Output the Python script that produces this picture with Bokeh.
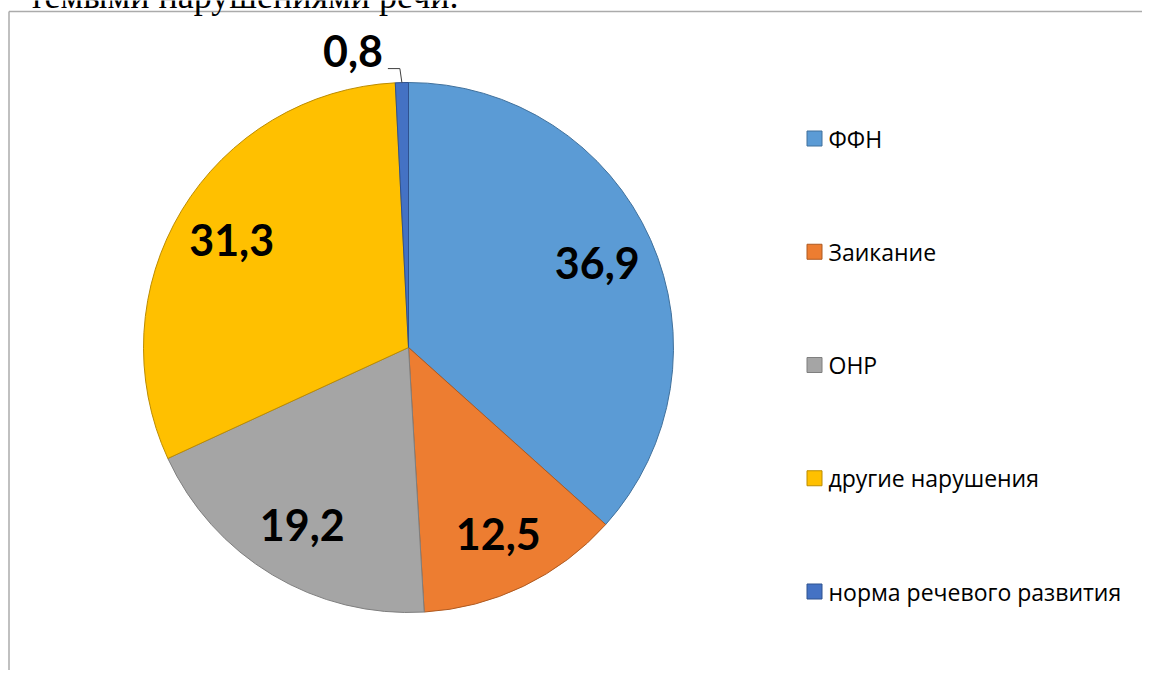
import math
from bokeh.plotting import figure
from bokeh.models import Range1d, ColumnDataSource
from bokeh.core.properties import value
from bokeh.embed import file_html
from bokeh.resources import INLINE

# ---- data ----
categories = ["ФФН", "Заикание", "ОНР", "другие нарушения", "норма речевого развития"]
values = [36.9, 12.5, 19.2, 31.3, 0.8]
labels = ["36,9", "12,5", "19,2", "31,3", "0,8"]
colors = ["#5B9BD5", "#ED7D31", "#A5A5A5", "#FFC000", "#4472C4"]
edge_colors = ["#41719C", "#AE5A21", "#7F7F7F", "#BC8C00", "#2F528F"]
heading = "темыми нарушениями речи."

# ---- layout (screen pixel -> data coords) ----
W, H = 1142, 670
def ax(x):
    return x
def ay(y):
    return H - y

CX, CY, R = ax(408), ay(347), 265
LABEL_R = 0.78 * R

p = figure(width=W, height=H, output_backend="svg", toolbar_location=None,
           x_range=Range1d(0, W), y_range=Range1d(0, H), min_border=0)
p.axis.visible = False
p.grid.visible = False
p.outline_line_color = None
p.background_fill_color = "white"
p.border_fill_color = "white"

# frame border of the chart area
p.segment(x0=[ax(8.5), ax(8.5)], y0=[ay(11), ay(11)], x1=[ax(W), ax(8.5)], y1=[ay(11), ay(H)],
          line_color="#ABABAB", line_width=1.5)

# heading text of the document, cut at the top edge as in the source
p.text(x=[ax(458)], y=[ay(-5)], text=[heading], text_font=value("Liberation Serif"),
       text_font_size="36px", text_align="right", text_baseline="alphabetic", text_color="black")

# ---- pie ----
total = sum(values)
starts, ends, mids = [], [], []
cum = 0.0
for v in values:
    t0 = cum / total * 2 * math.pi
    cum += v
    t1 = cum / total * 2 * math.pi
    starts.append(math.pi / 2 - t1)
    ends.append(math.pi / 2 - t0)
    mids.append((t0 + t1) / 2)

src = ColumnDataSource(dict(start=starts, end=ends, color=colors, edge=edge_colors))
p.wedge(x=CX, y=CY, radius=R, start_angle="start", end_angle="end",
        fill_color="color", line_color="edge", line_width=1, source=src)

# ---- data labels ----
in_x, in_y, in_t = [], [], []
for v, lab, tm in zip(values, labels, mids):
    if v >= 5:
        in_x.append(CX + LABEL_R * math.sin(tm))
        in_y.append(CY + LABEL_R * math.cos(tm))
        in_t.append(lab)
    else:
        px = CX + R * math.sin(tm)
        py = CY + R * math.cos(tm)
        ex, ey = px - 2, py + 14
        hx = ex - 12
        p.line(x=[px, ex, hx], y=[py, ey, ey], line_color="#404040", line_width=1)
        p.text(x=[hx - 5], y=[ey + 18], text=[lab], text_font=value("Lato"),
               text_font_style="bold", text_font_size="43px", text_align="right",
               text_baseline="middle", text_color="black")
p.text(x=in_x, y=in_y, text=in_t, text_font=value("Lato"), text_font_style="bold",
       text_font_size="43px", text_align="center", text_baseline="middle", text_color="black")

# ---- legend ----
leg_y = [ay(138 + i * 113.25) for i in range(len(categories))]
p.rect(x=[ax(814)] * len(categories), y=leg_y, width=15, height=15,
       fill_color=colors, line_color=edge_colors, line_width=1)
p.text(x=[ax(828)] * len(categories), y=leg_y, text=categories, text_font=value("Open Sans"),
       text_font_size="23px", text_align="left", text_baseline="middle", text_color="black")

open("out.html", "w").write(file_html(p, INLINE))
